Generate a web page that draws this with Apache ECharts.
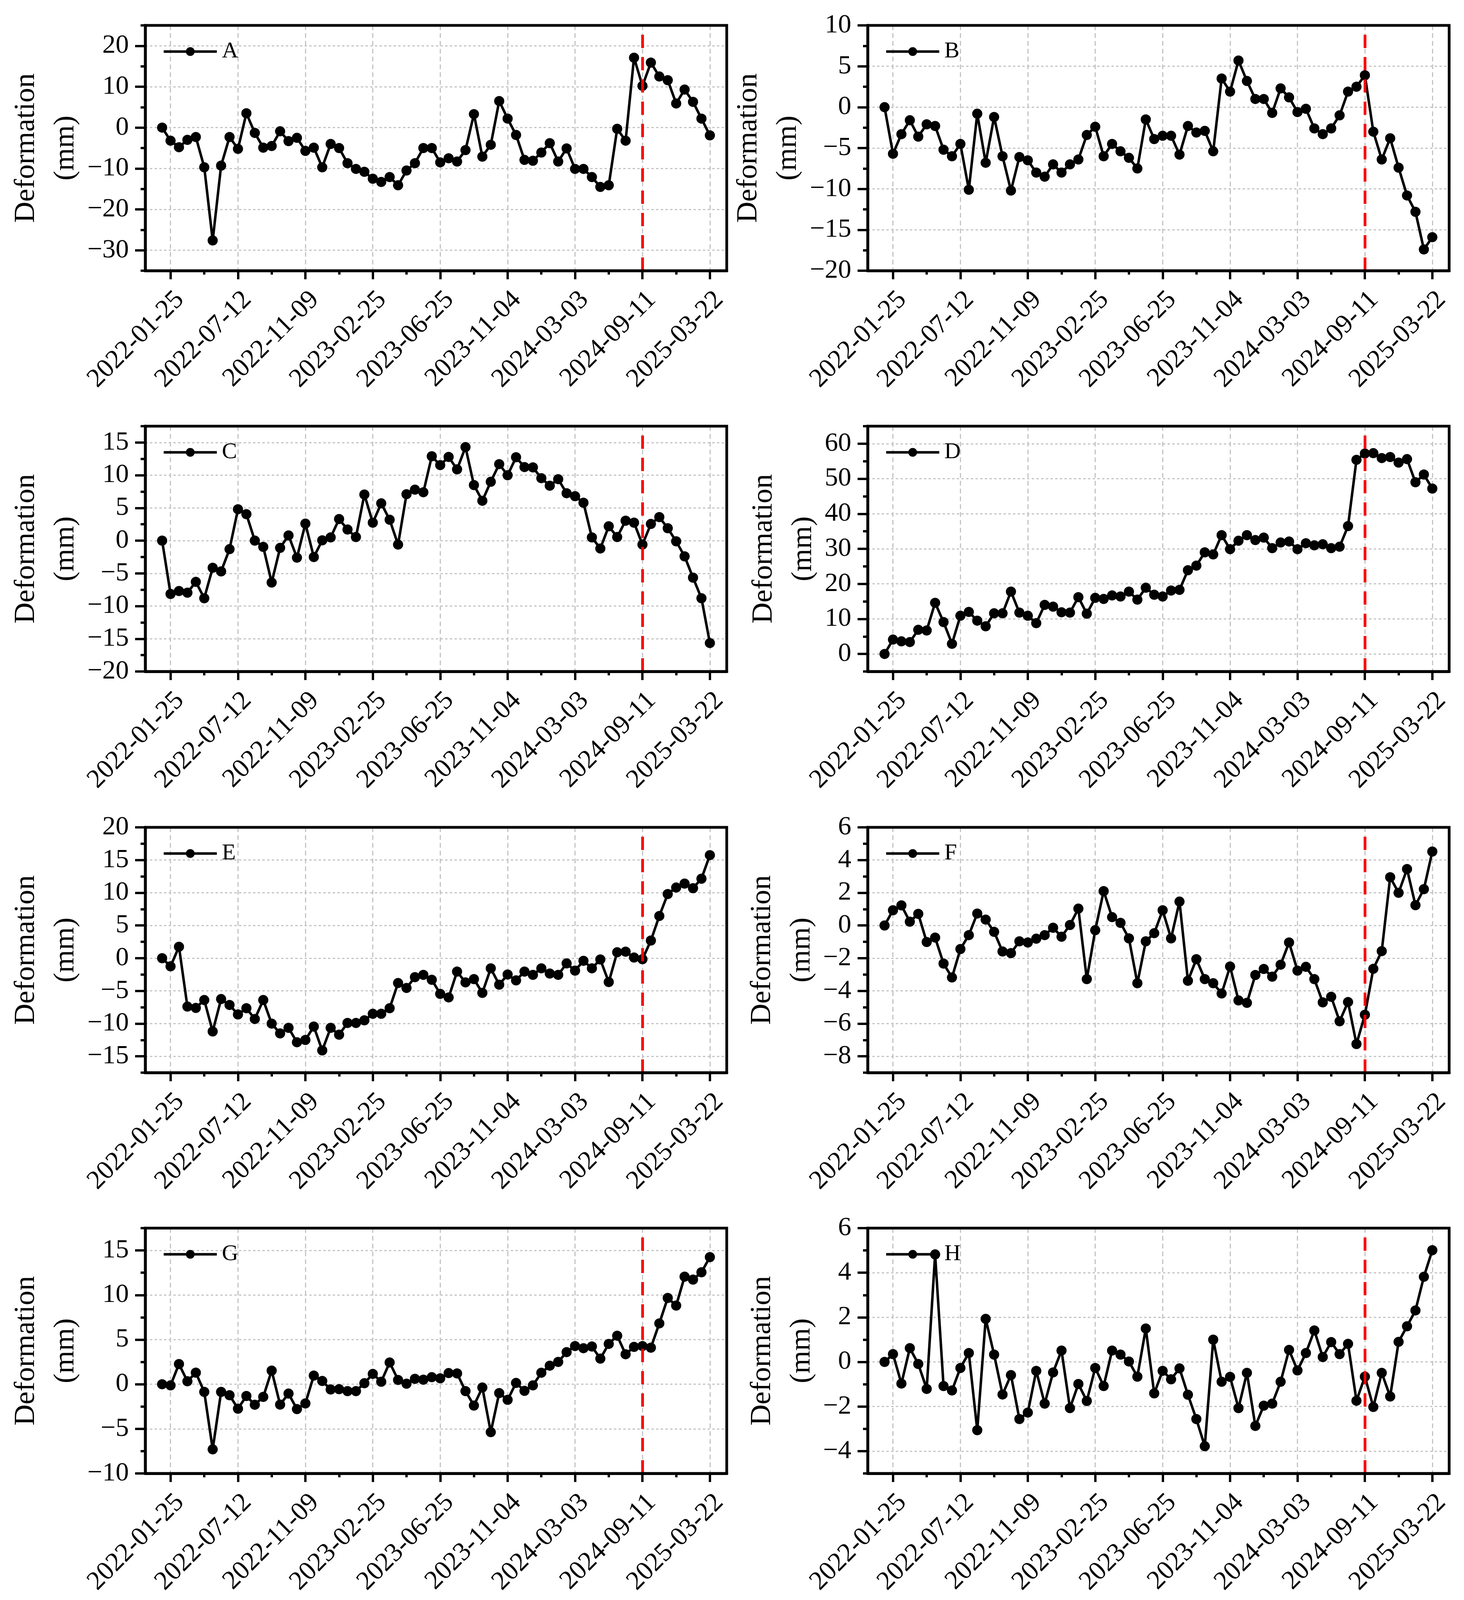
<!DOCTYPE html>
<html>
<head>
<meta charset="utf-8">
<script src="https://cdn.jsdelivr.net/npm/echarts@6/dist/echarts.min.js"></script>
<style>
  html, body { margin: 0; padding: 0; background: #fff; }
  #chart { width: 3749px; height: 4107px; }
</style>
</head>
<body>
<div id="chart"></div>
<script>
// x axis: 66 acquisitions, labelled every 8th one
const tickLabels = ['2022-01-25', '2022-07-12', '2022-11-09', '2023-02-25', '2023-06-25',
                    '2023-11-04', '2024-03-03', '2024-09-11', '2025-03-22'];
const tickIndex = [1, 9, 17, 25, 33, 41, 49, 57, 65];
const minorTickIndex = [5, 13, 21, 29, 37, 45, 53, 61];
const eventIndex = 57;   // red dashed line at 2024-09-11

const seriesA = [0, -3.2, -4.8, -3.0, -2.3, -9.7, -27.6, -9.3, -2.3, -5.2, 3.5, -1.3, -4.9, -4.5, -0.9, -3.3,
  -2.5, -5.7, -4.9, -9.7, -4.0, -5.0, -8.7, -10.1, -10.8, -12.5, -13.3, -12.1, -14.1, -10.5, -8.7, -5.0,
  -5.0, -8.5, -7.5, -8.3, -5.5, 3.3, -7.1, -4.2, 6.5, 2.2, -1.8, -7.9, -8.1, -6.1, -3.8, -8.3,
  -5.1, -10.1, -10.1, -12.1, -14.5, -14.1, -0.3, -3.2, 17.1, 10.2, 15.9, 12.5, 11.6, 5.9, 9.3, 6.3, 2.2, -1.9];
const seriesB = [0, -5.7, -3.3, -1.6, -3.6, -2.1, -2.3, -5.2, -6.0, -4.5, -10.1, -0.8, -6.8, -1.2, -6.0, -10.2,
  -6.1, -6.5, -8.0, -8.5, -7.0, -8.0, -7.0, -6.4, -3.4, -2.4, -6.0, -4.5, -5.4, -6.2, -7.5, -1.5,
  -3.9, -3.5, -3.5, -5.8, -2.3, -3.1, -2.9, -5.4, 3.5, 1.9, 5.7, 3.2, 1.0, 1.0, -0.7, 2.3,
  1.2, -0.6, -0.2, -2.6, -3.3, -2.6, -1.0, 1.9, 2.5, 3.9, -3.0, -6.4, -3.8, -7.4, -10.8, -12.8, -17.4, -15.9];
const seriesC = [0, -8.15, -7.7, -7.95, -6.3, -8.8, -4.15, -4.7, -1.3, 4.8, 4.05, 0, -0.95, -6.4, -1.1, 0.8,
  -2.6, 2.6, -2.5, 0.05, 0.5, 3.3, 1.7, 0.55, 7.05, 2.75, 5.7, 3.2, -0.6, 7.1, 7.8, 7.4,
  12.9, 11.55, 12.8, 10.9, 14.3, 8.5, 6.1, 9.0, 11.7, 10.0, 12.75, 11.25, 11.2, 9.55, 8.4, 9.4,
  7.25, 6.8, 5.8, 0.5, -1.2, 2.2, 0.55, 3.05, 2.75, -0.6, 2.55, 3.6, 1.9, -0.1, -2.4, -5.65, -8.8, -15.65];
const seriesD = [0, 4.1, 3.6, 3.4, 6.9, 6.7, 14.6, 9.1, 2.9, 10.9, 12.0, 9.5, 7.9, 11.6, 11.6, 17.8,
  11.8, 10.9, 8.8, 14.0, 13.5, 11.9, 11.8, 16.2, 11.5, 16.0, 15.7, 16.7, 16.4, 17.8, 15.5, 18.9,
  16.9, 16.4, 18.1, 18.3, 23.9, 25.2, 29.0, 28.4, 33.9, 29.9, 32.3, 33.9, 32.5, 33.2, 30.2, 31.8,
  32.1, 29.9, 31.6, 31.0, 31.3, 30.2, 30.6, 36.5, 55.4, 57.2, 57.3, 55.9, 56.2, 54.6, 55.6, 49.0, 51.2, 47.2];
const seriesE = [0, -1.25, 1.75, -7.4, -7.6, -6.4, -11.2, -6.25, -7.15, -8.6, -7.65, -9.3, -6.4, -10.0, -11.5, -10.65,
  -12.85, -12.5, -10.45, -14.1, -10.65, -11.7, -9.9, -9.9, -9.5, -8.5, -8.5, -7.65, -3.8, -4.55, -2.9, -2.55,
  -3.3, -5.45, -6.0, -2.05, -3.7, -3.2, -5.3, -1.55, -4.05, -2.5, -3.4, -2.05, -2.55, -1.55, -2.35, -2.55,
  -0.8, -1.9, -0.4, -1.55, -0.2, -3.65, 0.9, 1.0, 0.1, -0.15, 2.7, 6.45, 9.8, 10.8, 11.4, 10.7, 12.15, 15.75];
const seriesF = [0, 0.93, 1.23, 0.23, 0.71, -1.01, -0.74, -2.33, -3.18, -1.44, -0.59, 0.73, 0.36, -0.39, -1.59, -1.69,
  -0.97, -1.04, -0.81, -0.59, -0.14, -0.69, 0.03, 1.03, -3.28, -0.29, 2.1, 0.51, 0.16, -0.79, -3.53, -0.97,
  -0.47, 0.93, -0.79, 1.46, -3.38, -2.06, -3.28, -3.53, -4.16, -2.51, -4.58, -4.73, -3.03, -2.66, -3.13, -2.4,
  -1.04, -2.76, -2.53, -3.28, -4.7, -4.36, -5.86, -4.68, -7.25, -5.46, -2.65, -1.57, 2.95, 2.0, 3.45, 1.24, 2.22, 4.52];
const seriesG = [0, -0.13, 2.26, 0.33, 1.3, -0.86, -7.3, -0.86, -1.23, -2.74, -1.32, -2.3, -1.42, 1.53, -2.28, -1.05,
  -2.79, -2.15, 0.97, 0.37, -0.59, -0.55, -0.77, -0.77, 0.11, 1.16, 0.28, 2.44, 0.48, 0.06, 0.61, 0.51,
  0.79, 0.66, 1.25, 1.21, -0.77, -2.39, -0.37, -5.37, -0.99, -1.75, 0.15, -0.74, -0.13, 1.29, 2.08, 2.5,
  3.6, 4.28, 4.04, 4.23, 2.87, 4.52, 5.44, 3.36, 4.19, 4.28, 4.1, 6.82, 9.67, 8.82, 12.06, 11.73, 12.55, 14.25];
const seriesH = [0, 0.35, -0.97, 0.62, -0.09, -1.21, 4.82, -1.08, -1.28, -0.27, 0.4, -3.06, 1.93, 0.33, -1.46, -0.59,
  -2.56, -2.27, -0.4, -1.87, -0.47, 0.51, -2.07, -0.99, -1.75, -0.27, -1.08, 0.51, 0.33, 0.02, -0.66, 1.5,
  -1.41, -0.4, -0.78, -0.29, -1.47, -2.56, -3.78, 1.0, -0.89, -0.67, -2.07, -0.49, -2.87, -1.96, -1.87, -0.89,
  0.54, -0.38, 0.4, 1.41, 0.22, 0.89, 0.35, 0.81, -1.74, -0.66, -2.02, -0.49, -1.55, 0.9, 1.6, 2.31, 3.82, 5.01];

const panelNames = ['A', 'B', 'C', 'D', 'E', 'F', 'G', 'H'];
const panelValues = [seriesA, seriesB, seriesC, seriesD, seriesE, seriesF, seriesG, seriesH];
const yMin   = [-35, -20, -20, -5, -17.5, -9, -10, -5];
const yMax   = [25, 10, 17.5, 65, 20, 6, 17.5, 6];
const yMajor = [10, 5, 5, 10, 5, 2, 5, 2];
const yMinor = [5, 2.5, 2.5, 5, 2.5, 1, 2.5, 1];

// layout (px)
const FONT = '"Liberation Serif", "Times New Roman", serif';
const colLeft = [372, 2222];
const rowTop = [65, 1091, 2118, 3144];
const plotW = 1489, plotH = 628;
const nameGaps = [153, 153, 153, 104, 153, 104, 153, 104];

const PAD = 2;
const N = seriesA.length;
const cats = Array.from({ length: N + 2 * PAD }, (_, k) => String(k - PAD));
const isMajor = (i) => tickIndex.includes(i - PAD);
const isMinor = (i) => minorTickIndex.includes(i - PAD);
const fmtNum = (v) => (v < 0 ? '\u2212' + Math.abs(v) : String(v));

const grid = [], xAxis = [], yAxis = [], series = [], legend = [];

panelNames.forEach((name, k) => {
  const gl = colLeft[k % 2], gt = rowTop[Math.floor(k / 2)];
  // frame drawn above the grid lines
  grid.push({ left: gl, top: gt, width: plotW, height: plotH, show: true, z: 10,
              borderColor: '#000', borderWidth: 7, backgroundColor: 'transparent' });

  xAxis.push({
    type: 'category', gridIndex: k, data: cats, boundaryGap: false, position: 'bottom',
    axisLine: { show: true, onZero: false, lineStyle: { color: '#000', width: 7 } },
    axisTick: { show: true, length: 22, interval: isMajor, lineStyle: { color: '#000', width: 6 } },
    axisLabel: {
      interval: isMajor, rotate: 45, margin: 40, verticalAlign: 'top', align: 'right',
      fontFamily: FONT, fontSize: 68, color: '#000',
      formatter: (v) => { const j = tickIndex.indexOf(Number(v)); return j >= 0 ? tickLabels[j] : ''; }
    },
    splitLine: { show: true, interval: isMajor, lineStyle: { color: '#c4c4c4', width: 3, type: [12, 8] } }
  });
  xAxis.push({
    type: 'category', gridIndex: k, data: cats, boundaryGap: false, position: 'bottom',
    axisLine: { show: false, onZero: false },
    axisTick: { show: true, length: 10, interval: isMinor, lineStyle: { color: '#000', width: 6 } },
    axisLabel: { show: false }, splitLine: { show: false }
  });

  const majors = [];
  for (let v = Math.ceil(yMin[k] / yMajor[k]) * yMajor[k]; v <= yMax[k] + 1e-9; v += yMajor[k]) majors.push(v);

  yAxis.push({
    type: 'value', gridIndex: k, min: yMin[k], max: yMax[k], position: 'left',
    name: 'Deformation\n(mm)', nameLocation: 'middle', nameRotate: 90, nameGap: nameGaps[k],
    nameTextStyle: { fontFamily: FONT, fontSize: 75, lineHeight: 101, color: '#000' },
    axisLine: { show: true, onZero: false, lineStyle: { color: '#000', width: 7 } },
    axisTick: { show: true, length: 26, customValues: majors, lineStyle: { color: '#000', width: 6 } },
    axisLabel: { customValues: majors, margin: 42, fontFamily: FONT, fontSize: 68, color: '#000', formatter: fmtNum },
    splitLine: { show: true, lineStyle: { color: '#c4c4c4', width: 3, type: [6, 6] } }
  });
  yAxis.push({
    type: 'value', gridIndex: k, min: yMin[k], max: yMax[k], interval: yMinor[k], position: 'left',
    axisLine: { show: false, onZero: false },
    axisTick: { show: true, length: 12, lineStyle: { color: '#000', width: 6 } },
    axisLabel: { show: false }, splitLine: { show: false }
  });

  const padded = [null, null, ...panelValues[k], null, null];
  series.push({
    type: 'line', name: name, xAxisIndex: 2 * k, yAxisIndex: 2 * k, data: padded,
    symbol: 'circle', symbolSize: 26, showSymbol: true, showAllSymbol: true,
    lineStyle: { color: '#000', width: 6.5 }, itemStyle: { color: '#000' },
    markLine: {
      silent: true, symbol: ['none', 'none'], label: { show: false },
      lineStyle: { color: '#ff0000', width: 7, type: [34, 23] },
      data: [{ xAxis: String(eventIndex) }]
    },
    z: 3
  });

  legend.push({
    data: [name], left: gl + 44, top: gt + 38, padding: 0, itemWidth: 136, itemHeight: 28,
    lineStyle: { color: '#000', width: 6.5 }, itemStyle: { color: '#000' },
    textStyle: { fontFamily: FONT, fontSize: 58, color: '#000', padding: [0, 0, 0, 8] }
  });
});

const chart = echarts.init(document.getElementById('chart'), null, { renderer: 'canvas' });
chart.setOption({
  backgroundColor: '#fff',
  animation: false,
  grid, xAxis, yAxis, series, legend
});
</script>
</body>
</html>
